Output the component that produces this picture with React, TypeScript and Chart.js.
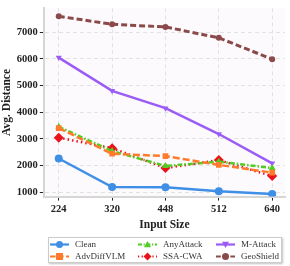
import React, { useEffect, useRef } from "react";
import { Chart, registerables } from "chart.js";

Chart.register(...registerables);

const inputSizes = ["224", "320", "448", "512", "640"];
const clean = [2260, 1190, 1180, 1030, 930];
const advDiffVLM = [3400, 2440, 2350, 2020, 1730];
const anyAttack = [3450, 2540, 1980, 2140, 1900];
const ssaCwa = [3040, 2650, 1900, 2200, 1600];
const mAttack = [6050, 4800, 4150, 3180, 2080];
const geoShield = [7600, 7300, 7200, 6790, 5990];
const yTicks = [1000, 2000, 3000, 4000, 5000, 6000, 7000];

const SERIF = "'Liberation Serif', 'DejaVu Serif', serif";

type Series = {
  label: string;
  data: number[];
  color: string;
  dash: number[];
  width: number;
  style: string;
  rotation: number;
  radius: number;
};

const series: Series[] = [
  { label: "Clean", data: clean, color: "#3f8fe6", dash: [], width: 2.5, style: "circle", rotation: 0, radius: 4 },
  { label: "AdvDiffVLM", data: advDiffVLM, color: "#ff7b2c", dash: [7, 3], width: 2.5, style: "rect", rotation: 0, radius: 4 },
  { label: "AnyAttack", data: anyAttack, color: "#52cc22", dash: [5, 2, 1.5, 2], width: 2.5, style: "triangle", rotation: 0, radius: 4 },
  { label: "SSA-CWA", data: ssaCwa, color: "#e8141b", dash: [1.5, 3], width: 2.5, style: "rectRot", rotation: 0, radius: 5 },
  { label: "M-Attack", data: mAttack, color: "#9b5cf6", dash: [], width: 2.5, style: "triangle", rotation: 180, radius: 3.5 },
  { label: "GeoShield", data: geoShield, color: "#8b4a4a", dash: [6, 3], width: 3, style: "circle", rotation: 0, radius: 3 },
];

// legend order (column-major: 3 columns x 2 rows)
const legendOrder = ["Clean", "AnyAttack", "M-Attack", "AdvDiffVLM", "SSA-CWA", "GeoShield"];

function drawMarker(ctx: CanvasRenderingContext2D, s: Series, x: number, y: number, r: number) {
  ctx.save();
  ctx.fillStyle = s.color;
  ctx.setLineDash([]);
  ctx.beginPath();
  if (s.style === "circle") {
    ctx.arc(x, y, r, 0, Math.PI * 2);
  } else if (s.style === "rect") {
    ctx.rect(x - r, y - r, 2 * r, 2 * r);
  } else if (s.style === "rectRot") {
    ctx.moveTo(x, y - r);
    ctx.lineTo(x + r, y);
    ctx.lineTo(x, y + r);
    ctx.lineTo(x - r, y);
    ctx.closePath();
  } else if (s.style === "triangle") {
    const dir = s.rotation === 180 ? -1 : 1;
    ctx.moveTo(x, y - dir * r);
    ctx.lineTo(x + r, y + dir * r * 0.8);
    ctx.lineTo(x - r, y + dir * r * 0.8);
    ctx.closePath();
  }
  ctx.fill();
  ctx.restore();
}

const plotBgPlugin = {
  id: "plotBg",
  beforeDraw(chart: any) {
    const { ctx, chartArea } = chart;
    if (!chartArea) return;
    ctx.save();
    ctx.fillStyle = "#fdfafd";
    ctx.fillRect(chartArea.left, chartArea.top, chartArea.right - chartArea.left, chartArea.bottom - chartArea.top);
    ctx.restore();
  },
};

const legendPlugin = {
  id: "gridLegend",
  afterDraw(chart: any) {
    const ctx: CanvasRenderingContext2D = chart.ctx;
    const bx = 48, by = 237, bw = 234, bh = 26;
    ctx.save();
    ctx.shadowColor = "rgba(0,0,0,0.25)";
    ctx.shadowOffsetX = 1;
    ctx.shadowOffsetY = 1;
    ctx.shadowBlur = 2;
    ctx.fillStyle = "#ffffff";
    ctx.fillRect(bx, by, bw, bh);
    ctx.restore();
    ctx.save();
    ctx.strokeStyle = "#cccccc";
    ctx.lineWidth = 1;
    ctx.strokeRect(bx + 0.5, by + 0.5, bw - 1, bh - 1);
    ctx.restore();

    const colX = [50, 138, 216];
    const rowY = [244.5, 256.5];
    legendOrder.forEach((name, i) => {
      const s = series.find((d) => d.label === name)!;
      const col = i % 3;
      const row = Math.floor(i / 3);
      const x0 = colX[col];
      const y = rowY[row];
      ctx.save();
      ctx.strokeStyle = s.color;
      ctx.lineWidth = 2.2;
      ctx.setLineDash(s.dash.length ? s.dash.map((d) => d * 0.8) : []);
      ctx.beginPath();
      ctx.moveTo(x0, y);
      ctx.lineTo(x0 + 19, y);
      ctx.stroke();
      ctx.restore();
      drawMarker(ctx, s, x0 + 9.5, y, s.style === "rectRot" ? 4 : 3.5);
      ctx.save();
      ctx.fillStyle = "#333";
      ctx.font = `9px ${SERIF}`;
      ctx.textBaseline = "middle";
      ctx.textAlign = "left";
      ctx.fillText(s.label, x0 + 25, y + 0.5);
      ctx.restore();
    });
  },
};

export default function App() {
  const canvasRef = useRef<HTMLCanvasElement | null>(null);

  useEffect(() => {
    document.body.style.margin = "0";
    const canvas = canvasRef.current;
    if (!canvas) return;
    const chart = new Chart(canvas, {
      type: "line",
      data: {
        datasets: series.map((s) => ({
          label: s.label,
          data: s.data.map((v, i) => ({ x: i, y: v })),
          borderColor: s.color,
          backgroundColor: s.color,
          borderWidth: s.width,
          borderDash: s.dash,
          pointStyle: s.style as any,
          pointRotation: s.rotation,
          pointRadius: s.radius,
          pointBorderWidth: 0,
          pointBackgroundColor: s.color,
          tension: 0,
          fill: false,
        })),
      },
      options: {
        animation: false,
        responsive: false,
        devicePixelRatio: 1,
        layout: { padding: { left: 0, right: 2, top: 5, bottom: 34 } },
        plugins: {
          legend: { display: false },
          tooltip: { enabled: false },
        },
        scales: {
          x: {
            type: "linear",
            min: -0.28,
            max: 4.24,
            afterBuildTicks: (axis: any) => {
              axis.ticks = inputSizes.map((_, i) => ({ value: i }));
            },
            ticks: {
              callback: (v: any) => inputSizes[Number(v)] ?? "",
              color: "#222",
              font: { family: SERIF, size: 10.5, weight: "bold" },
              padding: 2,
              maxRotation: 0,
            },
            grid: { color: "#e2e2e2", tickColor: "#222", tickLength: 4, lineWidth: 1 },
            border: { display: true, color: "#d6d6d6", width: 2, dash: [4, 3] },
            title: {
              display: true,
              text: "Input Size",
              color: "#222",
              font: { family: SERIF, size: 11.5, weight: "bold" },
              padding: { top: 1, bottom: 0 },
            },
          },
          y: {
            type: "linear",
            min: 830,
            max: 7900,
            afterBuildTicks: (axis: any) => {
              axis.ticks = yTicks.map((v) => ({ value: v }));
            },
            ticks: {
              callback: (v: any) => String(v),
              color: "#222",
              font: { family: SERIF, size: 10.5, weight: "bold" },
              padding: 2,
            },
            grid: { color: "#e2e2e2", tickColor: "#222", tickLength: 4, lineWidth: 1 },
            border: { display: true, color: "#d6d6d6", width: 2, dash: [4, 3] },
            title: {
              display: true,
              text: "Avg. Distance",
              color: "#222",
              font: { family: SERIF, size: 11.5, weight: "bold" },
              padding: { top: 0, bottom: 1 },
            },
          },
        },
      },
      plugins: [plotBgPlugin, legendPlugin],
    });
    return () => chart.destroy();
  }, []);

  return (
    <div style={{ width: 290, height: 266 }}>
      <canvas ref={canvasRef} width={290} height={266} style={{ width: 290, height: 266, display: "block" }} />
    </div>
  );
}
